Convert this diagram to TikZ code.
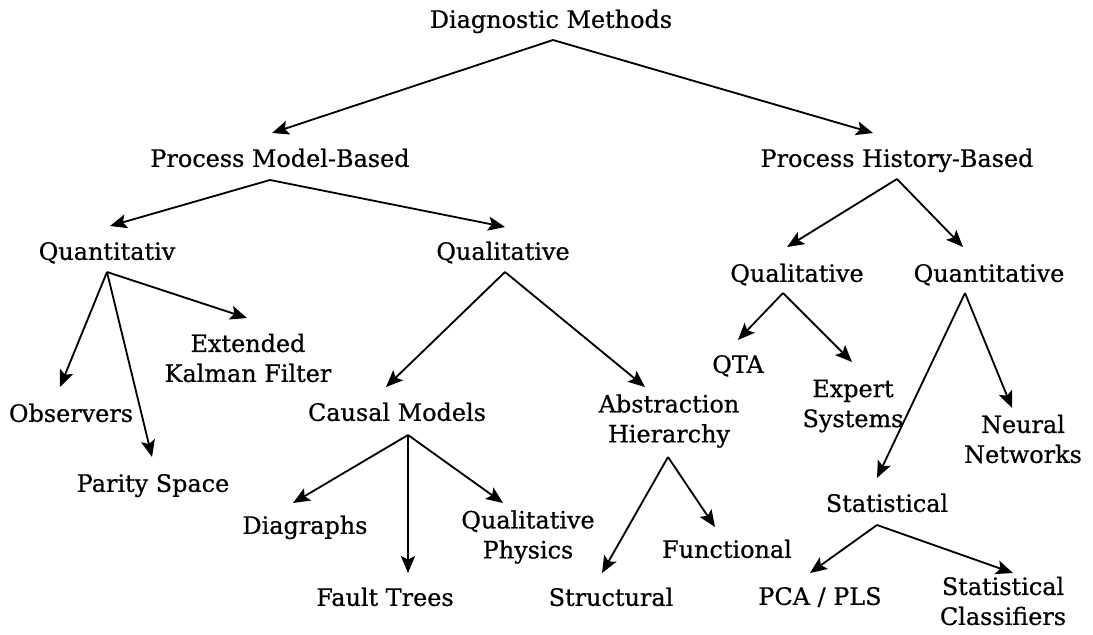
\documentclass[tikz,border=0pt]{standalone}
\usepackage{fontspec}
\setmainfont{DejaVu Serif}
\newfontfamily\diagfont{DejaVu Serif}[FakeBold=0.7]
\usetikzlibrary{arrows.meta,calc}

\tikzset{
  lbl/.style={font=\diagfont\fontsize{17}{21.3}\selectfont, inner sep=0pt,
    text height=13.1pt, text depth=4.1pt},
  lbltwo/.style={font=\diagfont\fontsize{17}{21.3}\selectfont, inner sep=0pt, align=center},
  arr/.style={-{Stealth[length=12pt,width=10pt,inset=2.5pt]}, line width=1.3pt}
}

\begin{document}
\begin{tikzpicture}[x=0.025cm, y=-0.025cm]
    \useasboundingbox (0,0) rectangle (1093,634);
    % Root and first split
    \node[lbl] (dm) at (551,21.5) {Diagnostic Methods};
    \node[lbl] (pmb) at (280,160.5) {Process Model-Based};
    \node[lbl] (phb) at (897,160.5) {Process History-Based};
    % Model-based branch
    \node[lbl] (qnL) at (107,253.5) {Quantitativ};
    \node[lbl] (qlL) at (503,253.5) {Qualitative};
    \node[lbltwo] (ekf) at (248,358) {Extended\\Kalman Filter};
    \node[lbl] (obs) at (71,415.5) {Observers};
    \node[lbl] (par) at (153,485.5) {Parity Space};
    \node[lbl] (cau) at (397,414.5) {Causal Models};
    \node[lbltwo] (abs) at (669,421) {Abstraction\\Hierarchy};
    \node[lbl] (dia) at (305,527.5) {Diagraphs};
    \node[lbl] (flt) at (385,599.5) {Fault Trees};
    \node[lbltwo] (qph) at (528,537) {Qualitative\\Physics};
    \node[lbl] (str) at (611,599.5) {Structural};
    \node[lbl] (fun) at (727,551.5) {Functional};
    % History-based branch
    \node[lbl] (qlR) at (797,275.5) {Qualitative};
    \node[lbl] (qnR) at (989,275.5) {Quantitative};
    \node[lbl] (qta) at (738,366.5) {QTA};
    \node[lbltwo] (exp) at (853,406) {Expert\\Systems};
    \node[lbltwo] (neu) at (1023,439) {Neural\\Networks};
    \node[lbl] (sta) at (887,505.5) {Statistical};
    \node[lbl] (pca) at (820,598.5) {PCA / PLS};
    \node[lbltwo] (scl) at (1003,601) {Statistical\\Classifiers};

    % Arrows, top level
    \draw[arr] ($(dm)+(2,18.5)$) -- ($(pmb)+(-8,-27.5)$);
    \draw[arr] ($(dm)+(2,18.5)$) -- ($(phb)+(-24,-27.5)$);
    \draw[arr] ($(pmb)+(-10,19.5)$) -- ($(qnL)+(3,-27.5)$);
    \draw[arr] ($(pmb)+(-10,19.5)$) -- ($(qlL)+(2,-26.5)$);
    \draw[arr] ($(phb)+(0,18.5)$) -- ($(qlR)+(-10,-28.5)$);
    \draw[arr] ($(phb)+(0,18.5)$) -- ($(qnR)+(-26,-28.5)$);
    % Quantitative model-based
    \draw[arr] ($(qnL)+(0,18.5)$) -- ($(obs)+(-11,-28.5)$);
    \draw[arr] ($(qnL)+(0,18.5)$) -- ($(par)+(-1,-28.5)$);
    \draw[arr] ($(qnL)+(0,18.5)$) -- ($(ekf)+(-1,-40)$);
    % Qualitative model-based
    \draw[arr] ($(qlL)+(2,18.5)$) -- ($(cau)+(-11,-27.5)$);
    \draw[arr] ($(qlL)+(2,18.5)$) -- ($(abs)+(-24,-34)$);
    \draw[arr] ($(cau)+(11,20.5)$) -- ($(dia)+(-12,-24.5)$);
    \draw[arr] ($(cau)+(11,20.5)$) -- ($(flt)+(23,-26.5)$);
    \draw[arr] ($(cau)+(11,20.5)$) -- ($(qph)+(-25,-34)$);
    \draw[arr] ($(abs)+(-1,36)$) -- ($(str)+(-9,-26.5)$);
    \draw[arr] ($(abs)+(-1,36)$) -- ($(fun)+(-12,-24.5)$);
    % History-based
    \draw[arr] ($(qlR)+(-14,17.5)$) -- ($(qta)+(0,-26.5)$);
    \draw[arr] ($(qlR)+(-14,17.5)$) -- ($(exp)+(-1,-44)$);
    \draw[arr] ($(qnR)+(-24,17.5)$) -- ($(sta)+(-10,-27.5)$);
    \draw[arr] ($(qnR)+(-24,17.5)$) -- ($(neu)+(-11,-31)$);
    \draw[arr] ($(sta)+(-10,19.5)$) -- ($(pca)+(-10,-25.5)$);
    \draw[arr] ($(sta)+(-10,19.5)$) -- ($(scl)+(10,-28)$);
\end{tikzpicture}
\end{document}
